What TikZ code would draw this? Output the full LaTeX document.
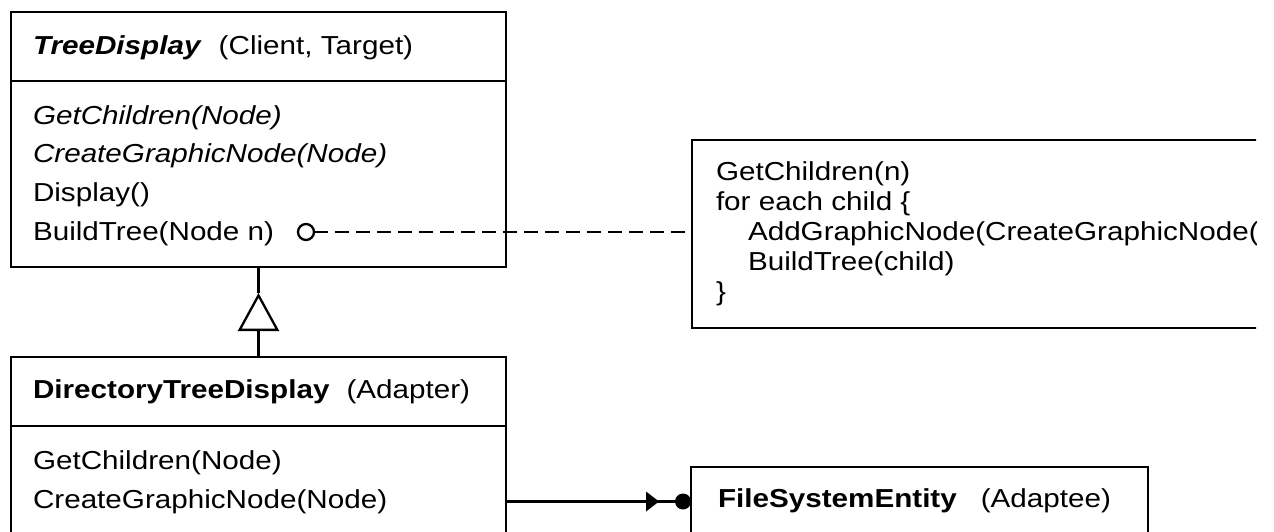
\documentclass[tikz,border=0pt]{standalone}
\usepackage{fontspec}
\setmainfont{Liberation Sans}[FakeStretch=1.14]
\usetikzlibrary{arrows.meta, positioning, calc}

\begin{document}
\begin{tikzpicture}[x=1pt, y=-1pt, line width=2.3pt,
    every node/.style={inner sep=0pt, outer sep=0pt, font=\fontsize{26}{30}\selectfont},
    classbox/.style={draw, minimum width=495pt, anchor=north west},
    txt/.style={anchor=base west}]
    \useasboundingbox (0,0) rectangle (1274,531);
    % TreeDisplay
    \node[classbox, minimum height=69pt] (tdhead) at (11,12) {};
    \node[classbox, minimum height=186pt, below=0pt of tdhead] (tdbody) {};
    \node[txt] (tdname) at (33,54) {\textbf{\textit{TreeDisplay}}\hspace{17pt}(Client, Target)};
    \foreach \op [count=\i] in {\textit{GetChildren(Node)}, \textit{CreateGraphicNode(Node)}, Display(), BuildTree(Node n)}
        \node[txt] (tdop\i) at (33, 85.5+38.7*\i) {\op};
    % DirectoryTreeDisplay
    \node[classbox, minimum height=69pt] (dtdhead) at (11,357) {};
    \node[classbox, minimum height=200pt, below=0pt of dtdhead] (dtdbody) {};
    \node[txt] (dtdname) at (33,398) {\textbf{DirectoryTreeDisplay}\hspace{17pt}(Adapter)};
    \foreach \op [count=\i] in {GetChildren(Node), CreateGraphicNode(Node)}
        \node[txt] (dtdop\i) at (33, 430+39*\i) {\op};
    % FileSystemEntity
    \node[classbox, minimum width=457pt, minimum height=69pt] (fsehead) at (691,467) {};
    \node[txt] (fsename) at (718,507) {\textbf{FileSystemEntity}\hspace{24pt}(Adaptee)};
    % note, cut at the right
    \begin{scope}
        \clip (0,0) rectangle (1256,531);
        \node[draw, minimum width=620pt, minimum height=188pt, anchor=north west] (note) at (692,140) {};
        \foreach \ln/\ind [count=\i] in {GetChildren(n)/0, for each child \{/0, AddGraphicNode(CreateGraphicNode(child))/32, BuildTree(child)/32, \}/0}
            \node[txt] (noteln\i) at (716+\ind, 150+30*\i) {\ln};
    \end{scope}
    % inheritance
    \draw (tdbody.south) -- ++(0,26) coordinate (apex);
    \draw[-{Triangle[open, length=38pt, width=41pt]}] (dtdhead.north) -- (apex);
    % implementation note
    \node[circle, draw, minimum size=16pt] (btdot) at (306,232) {};
    \draw[dash pattern=on 14pt off 7pt] (btdot) -- (btdot -| note.west);
    % adaptee
    \draw (fsehead.west -| dtdbody.east) -- (fsehead.west);
    \fill ($(fsehead.west)+(-8,0)$) circle (8);
    \fill ($(fsehead.west)+(-45,-10)$) -- ++(13,10) -- ++(-13,10) -- cycle;
\end{tikzpicture}
\end{document}
